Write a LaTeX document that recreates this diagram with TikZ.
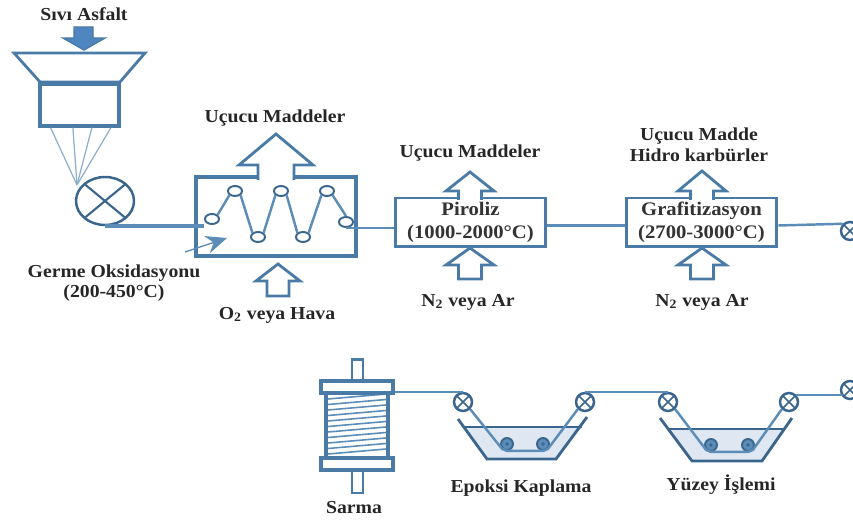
\documentclass[tikz,border=0pt]{standalone}
\usepackage{fontspec}
\setmainfont[FakeStretch=1.08]{Liberation Serif}
\usepackage{tikz}
\usetikzlibrary{arrows.meta,calc,shapes.geometric}
\definecolor{fibreblue}{HTML}{5B8DB8}
\definecolor{edgeblue}{HTML}{4A7BA6}
\definecolor{darkblue}{HTML}{3A668E}
\definecolor{feedblue}{HTML}{4F86C0}
\definecolor{bathblue}{HTML}{DFE8F2}

\begin{document}
\begin{tikzpicture}[x=0.02cm, y=-0.02cm, >=stealth,
		txt/.style={font=\fontsize{10.4}{11.8}\selectfont\bfseries, text=black!85, align=center, inner sep=0pt},
		proclabel/.style={draw=edgeblue, line width=1.7pt, fill=white, font=\fontsize{10.9}{13}\selectfont\bfseries, text=black!80, align=center, inner sep=0pt},
		fibre/.style={draw=fibreblue, line width=1.4pt},
		shell/.style={draw=edgeblue, line width=1.6pt},
		roller/.style={ellipse, draw=darkblue, line width=1.1pt, fill=white, inner sep=0pt, minimum width=0.28cm, minimum height=0.2cm},
		crosspulley/.style={circle, draw=darkblue, line width=1.4pt, fill=white, inner sep=0pt, minimum size=0.36cm, path picture={
			\draw[darkblue, line width=1pt] (path picture bounding box.north west) -- (path picture bounding box.south east)
				(path picture bounding box.south west) -- (path picture bounding box.north east);}},
		bathroller/.style={circle, draw=darkblue, line width=1.1pt, fill=fibreblue, inner sep=0pt, minimum size=0.24cm, path picture={
			\fill[darkblue] (path picture bounding box.center) circle (1pt);}}]
		\def\blockarrow#1#2#3#4#5#6#7{\filldraw[shell, fill=white] ({#1-#6},#4) -- ({#1-#6},#3) -- ({#1-#5},#3) -- (#1,#2) -- ({#1+#5},#3) -- ({#1+#6},#3) -- ({#1+#6},#4) #7;}
		\useasboundingbox (0,0) rectangle (853,520);
		% ---------------- feed ----------------
		\node[txt] (asfalt) at (84,14) {Sıvı Asfalt};
		\filldraw[draw=edgeblue, fill=feedblue, line width=0.8pt] (74,27) -- (93,27) -- (93,38) -- (105,38) -- (84,50) -- (63,38) -- (74,38) -- cycle;
		\draw[shell] (14,53) -- (145,53) -- (120,82) -- (40,82) -- cycle;
		\node[draw=edgeblue, line width=2pt, fill=white, minimum width=1.58cm, minimum height=0.84cm, inner sep=0pt] (feedbox) at (79.5,105) {};
		\coordinate (fan) at (77,185);
		\foreach \fr in {0.15,0.42,0.65,0.88}
			\draw[draw=fibreblue!70, line width=0.7pt] (fan) -- ($(feedbox.south west)!\fr!(feedbox.south east)$);
		\node[ellipse, draw=darkblue, line width=1.4pt, fill=none, inner sep=0pt, minimum width=1.16cm, minimum height=0.96cm, path picture={
			\draw[darkblue, line width=1.2pt] (path picture bounding box.north west) -- (path picture bounding box.south east)
				(path picture bounding box.south west) -- (path picture bounding box.north east);}] (winder) at (105,201) {};
		% ---------------- oxidation ----------------
		\node[draw=edgeblue, line width=1.8pt, minimum width=3.2cm, minimum height=1.58cm, inner sep=0pt] (oven) at (276,216.5) {};
		\blockarrow{276}{134}{165}{180}{37}{18}{}
		\blockarrow{278}{264}{281}{296}{22}{11}{-- cycle}
		\node[txt] (ucucuA) at (275,118) {Uçucu Maddeler};
		\node[txt] (oksijen) at (277,315) {O\textsubscript{2} veya Hava};
		\node[txt] (germe) at (114,283) {Germe Oksidasyonu\\(200-450°C)};
		\node[roller] (ra) at (212,219) {};
		\node[roller] (rb) at (235,191) {};
		\node[roller] (rc) at (258,237) {};
		\node[roller] (rd) at (281,191) {};
		\node[roller] (re) at (303,237) {};
		\node[roller] (rf) at (327,191) {};
		\node[roller] (rg) at (346,222) {};
		\draw[fibre] (ra.north east) -- (rb.south west) (rb.south east) -- (rc.north west) (rc.north east) -- (rd.south west) (rd.south east) -- (re.north west) (re.north east) -- (rf.south west) (rf.south east) -- (rg.north);
		\draw[fibre, line width=2.2pt] (winder.south) -- (winder.south -| ra.west);
		\coordinate (gstart) at (185,252);
		\coordinate (gend) at (227,238);
		\draw[fibre, line width=0.8pt, -{Stealth[length=0.42cm,width=0.36cm]}] (gstart) -- (gend);
		% ---------------- pyrolysis, graphitization ----------------
		\node[proclabel, minimum width=3.02cm, minimum height=0.98cm] (piroliz) at (470.5,222.5) {Piroliz\\(1000-2000°C)};
		\node[proclabel, minimum width=3.02cm, minimum height=0.98cm] (grafit) at (701.5,222.5) {Grafitizasyon\\(2700-3000°C)};
		\blockarrow{470}{172}{191}{200}{24}{11.5}{}
		\blockarrow{470}{248}{265}{279}{24}{11.5}{-- cycle}
		\blockarrow{702}{171}{191}{200}{24}{11.5}{}
		\blockarrow{702}{248}{265}{279}{24}{11.5}{-- cycle}
		\node[txt] (ucucuB) at (470,153) {Uçucu Maddeler};
		\node[txt] (azotA) at (468,302) {N\textsubscript{2} veya Ar};
		\node[txt] (hidro) at (699,145) {Uçucu Madde\\Hidro karbürler};
		\node[txt] (azotB) at (702,302) {N\textsubscript{2} veya Ar};
		\node[crosspulley] (pa) at (850,231) {};
		\draw[fibre] (rg.south) -- (rg.south -| piroliz.west);
		\draw[fibre] ($(piroliz.east)+(0,3)$) -- ($(grafit.west)+(0,3)$);
		\draw[fibre] ($(grafit.east)+(0,3)$) -- (pa.north west);
		% ---------------- winding ----------------
		\node[draw=edgeblue, line width=1.7pt, minimum width=0.22cm, minimum height=0.46cm, inner sep=0pt] (stemtop) at (357.5,371) {};
		\node[draw=edgeblue, line width=1.7pt, minimum width=0.22cm, minimum height=0.46cm, inner sep=0pt] (stembot) at (357.5,481.5) {};
		\node[draw=edgeblue, line width=2pt, fill=white, minimum width=1.24cm, minimum height=1.3cm, inner sep=0pt] (spool) at (357,425.5) {};
		\foreach \y in {399,404.5,...,455}
			\draw[fibre, line width=0.9pt] (328,\y) -- (386,\y-5);
		\node[draw=edgeblue, line width=2pt, fill=white, minimum width=1.44cm, minimum height=0.24cm, inner sep=0pt] (flangetop) at (357,387) {};
		\node[draw=edgeblue, line width=2pt, fill=white, minimum width=1.44cm, minimum height=0.24cm, inner sep=0pt] (flangebot) at (357,464) {};
		\node[txt] (sarma) at (354,508) {Sarma};
		% ---------------- baths ----------------
		\fill[bathblue] (464,427) -- (582,427) -- (556,459) -- (487,459) -- cycle;
		\draw[darkblue, line width=1pt] (464,427) -- (582,427);
		\draw[darkblue, line width=1.6pt] (458,419) -- (487,459) -- (556,459) -- (587,417);
		\fill[bathblue] (667,429) -- (785,429) -- (762,461) -- (692,461) -- cycle;
		\draw[darkblue, line width=1pt] (667,429) -- (785,429);
		\draw[darkblue, line width=1.6pt] (660,418) -- (692,461) -- (762,461) -- (792,418);
		\node[crosspulley] (pb) at (463,402) {};
		\node[crosspulley] (pc) at (585,402) {};
		\node[crosspulley] (pd) at (668,402) {};
		\node[crosspulley] (pe) at (789,402) {};
		\node[crosspulley] (pf) at (850,390) {};
		\node[bathroller] (ba) at (507,444) {};
		\node[bathroller] (bb) at (543,444) {};
		\node[bathroller] (bc) at (711,445) {};
		\node[bathroller] (bd) at (748,445) {};
		\draw[fibre] (flangetop.east |- pb.north) -- (pb.north);
		\draw[fibre] (pb.south east) -- (ba.south west) -- (ba.south) -- (bb.south) -- (bb.south east) -- (pc.south west);
		\draw[fibre] (pc.north) -- (pd.north);
		\draw[fibre] (pd.south east) -- (bc.south west) -- (bc.south) -- (bd.south) -- (bd.south east) -- (pe.south west);
		\draw[fibre] (pe.north east) -- (pe.north east -| pf.south west);
		\node[txt] (epoksi) at (521,488) {Epoksi Kaplama};
		\node[txt] (yuzey) at (721,485) {Yüzey İşlemi};
	\end{tikzpicture}
\end{document}
